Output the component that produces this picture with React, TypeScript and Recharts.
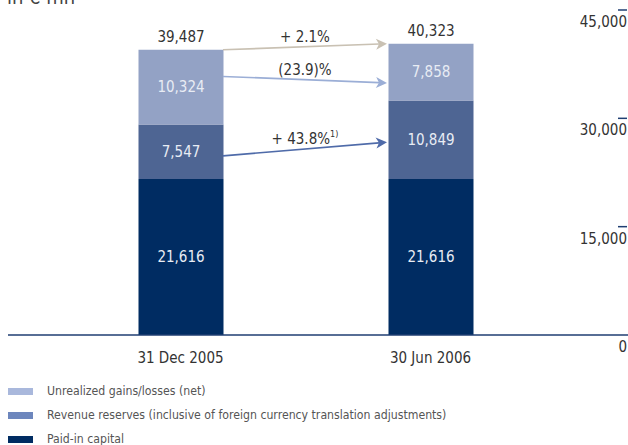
import React from 'react'
import { BarChart, Bar, XAxis, YAxis, LabelList, Legend, ReferenceLine } from 'recharts'

const FONT = "'Liberation Sans Narrow', 'Arial Narrow', 'DejaVu Sans Condensed', sans-serif"

// data (EUR mn)
const categories = ['31 Dec 2005', '30 Jun 2006']
const paidIn = [21616, 21616]
const revenueReserves = [7547, 10849]
const unrealized = [10324, 7858]
const totals = [39487, 40323]
const yTicks = [0, 15000, 30000, 45000]

const seriesNames = [
  'Unrealized gains/losses (net)',
  'Revenue reserves (inclusive of foreign currency translation adjustments)',
  'Paid-in capital',
]

// change arrows between the two dates
const changeLabels = ['+ 2.1%', '(23.9)%', '+ 43.8%']
const changeNotes = ['', '', '1)']
const arrowFrom = [39487, 35800, 24800]
const arrowTo = [40323, 34900, 26700]

const BAR_COLORS = ['#93A2C5', '#4E6593', '#002C62']
const LEGEND_COLORS = ['#A9B8DC', '#6D86BD', '#002C62']
const ARROW_COLORS = ['#C9C1B3', '#9BAED6', '#4F6BA9']
const AXIS = '#1F3E72'
const BAR_W = 85
const NUM_SIZE = 15

const data = categories.map((name, i) => ({
  name,
  paidIn: paidIn[i],
  reserves: revenueReserves[i],
  unrealized: unrealized[i],
  total: totals[i],
}))

const fmt = (v: any) => Number(v).toLocaleString('en-US')

const YTick = (p: any) => {
  const { x, y, payload } = p
  return (
    <g>
      {payload.value !== 0 && <line x1={x - 10} x2={x - 1} y1={y} y2={y} stroke={AXIS} strokeWidth={1.5} />}
      <text x={x - 1} y={y + 17} textAnchor="end" fill="#333" fontSize={NUM_SIZE} fontFamily={FONT}>
        {fmt(payload.value)}
      </text>
    </g>
  )
}

const Arrow = (p: any) => {
  const i = p.idx
  const x1 = p.x1 + BAR_W / 2
  const x2 = p.x2 - BAR_W / 2 - 1
  const y1 = p.y1
  const y2 = p.y2
  const dx = x2 - x1, dy = y2 - y1
  const len = Math.sqrt(dx * dx + dy * dy)
  const ux = dx / len, uy = dy / len
  const px = -uy, py = ux
  const bx = x2 - ux * 11, by = y2 - uy * 11
  const nx = x2 - ux * 8, ny = y2 - uy * 8
  const c = ARROW_COLORS[i]
  return (
    <g>
      <line x1={x1} y1={y1} x2={nx} y2={ny} stroke={c} strokeWidth={1.6} />
      <polygon
        points={`${x2},${y2} ${bx + px * 5.5},${by + py * 5.5} ${nx},${ny} ${bx - px * 5.5},${by - py * 5.5}`}
        fill={c}
      />
      <text x={(x1 + x2) / 2} y={(y1 + y2) / 2 - 5} textAnchor="middle" fill="#333" fontSize={NUM_SIZE} fontFamily={FONT}>
        {changeLabels[i]}
        {changeNotes[i] && <tspan fontSize={9} dy={-7}>{changeNotes[i]}</tspan>}
      </text>
    </g>
  )
}

const renderLegend = () => (
  <div style={{ height: 66, fontFamily: FONT, fontSize: 12.2, color: '#555' }}>
    {seriesNames.map((n, i) => (
      <div key={n} style={{ display: 'flex', alignItems: 'center', height: 24 }}>
        <span style={{ display: 'inline-block', width: 25, height: 7, background: LEGEND_COLORS[i], marginRight: 14 }} />
        <span>{n}</span>
      </div>
    ))}
  </div>
)

export default function App() {
  return (
    <div style={{ position: 'fixed', left: 0, top: 0, width: 628, height: 445, overflow: 'hidden', background: '#fff' }}>
      <div style={{ position: 'absolute', left: 7, top: -13, fontFamily: FONT, fontSize: 20, lineHeight: '20px', color: '#444' }}>
        in € mn
      </div>
      <BarChart width={628} height={445} data={data} margin={{ top: 10, right: 0, left: 8, bottom: 0 }} barSize={BAR_W}>
        <XAxis
          dataKey="name"
          padding={{ left: 47.5, right: 72.5 }}
          axisLine={{ stroke: AXIS, strokeWidth: 1.5 }}
          tickLine={false}
          tickSize={0}
          tickMargin={17}
          height={44}
          interval={0}
          tick={{ fill: '#333', fontSize: NUM_SIZE, fontFamily: FONT }}
        />
        <YAxis
          orientation="right"
          mirror
          width={60}
          domain={[0, 45000]}
          ticks={yTicks}
          interval={0}
          axisLine={false}
          tickLine={false}
          tickSize={0}
          tickMargin={0}
          tick={<YTick />}
        />
        <Legend verticalAlign="bottom" layout="horizontal" align="left" content={renderLegend} wrapperStyle={{ left: 8 }} />
        <Bar dataKey="paidIn" stackId="a" fill={BAR_COLORS[2]} isAnimationActive={false}>
          <LabelList dataKey="paidIn" position="center" formatter={fmt} fill="#E8ECF4" fontSize={NUM_SIZE} fontFamily={FONT} />
        </Bar>
        <Bar dataKey="reserves" stackId="a" fill={BAR_COLORS[1]} isAnimationActive={false}>
          <LabelList dataKey="reserves" position="center" formatter={fmt} fill="#E8ECF4" fontSize={NUM_SIZE} fontFamily={FONT} />
        </Bar>
        <Bar dataKey="unrealized" stackId="a" fill={BAR_COLORS[0]} isAnimationActive={false}>
          <LabelList dataKey="unrealized" position="center" formatter={fmt} fill="#E8ECF4" fontSize={NUM_SIZE} fontFamily={FONT} />
          <LabelList dataKey="total" position="top" offset={8} formatter={fmt} fill="#333" fontSize={NUM_SIZE} fontFamily={FONT} />
        </Bar>
        {arrowFrom.map((v, i) => (
          <ReferenceLine
            key={i}
            segment={[{ x: categories[0], y: v }, { x: categories[1], y: arrowTo[i] }]}
            ifOverflow="visible"
            shape={(p: any) => <Arrow {...p} idx={i} />}
          />
        ))}
      </BarChart>
    </div>
  )
}
